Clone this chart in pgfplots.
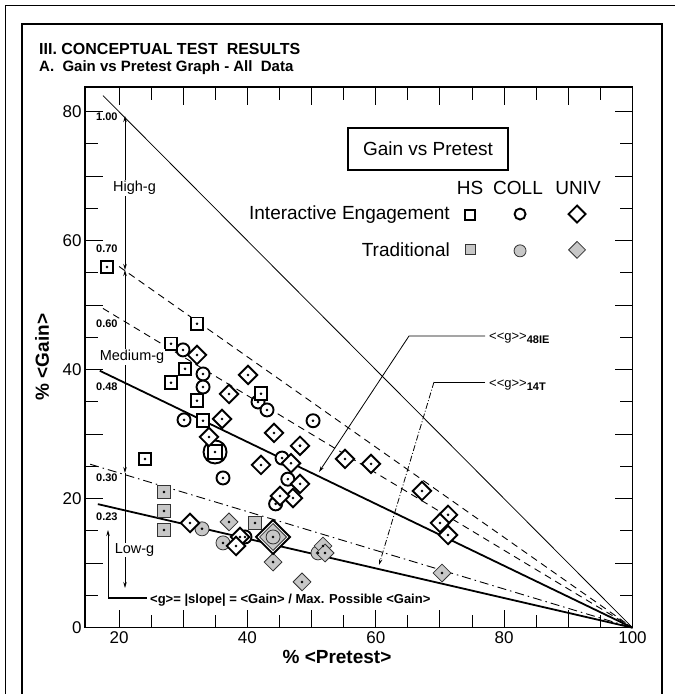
\documentclass[border=0pt]{standalone}
\usepackage{fontspec}
\setmainfont{Liberation Sans}
\usepackage{pgfplots}
\usepackage{pgfplotstable}
\pgfplotsset{compat=1.18}
\usetikzlibrary{arrows.meta}

% HS interactive engagement (squares)
\pgfplotstableread{
x y
18.13 55.93
32.15 47.11
28.10 44.01
30.28 40.13
28.10 37.98
32.15 35.19
33.09 32.09
42.12 36.28
24.05 26.16
}\hsIE
% HS traditional
\pgfplotstableread{
x y
27.01 21.05
27.01 18.10
27.01 15.16
41.19 16.24
}\hsTR
% COLL interactive engagement (circles)
\pgfplotstableread{
x y
29.97 43.07
33.09 39.34
33.09 37.32
30.13 32.22
36.20 23.22
41.66 35.00
43.06 33.76
50.23 32.09
45.40 26.30
48.20 28.20
46.30 23.03
44.40 19.20
39.63 14.07
}\colIE
% COLL traditional
\pgfplotstableread{
x y
32.93 15.33
36.20 13.15
51.00 11.60
}\colTR
% UNIV interactive engagement (diamonds)
\pgfplotstableread{
x y
32.15 42.29
40.10 39.19
37.14 36.24
36.05 32.37
34.02 29.58
44.15 30.20
42.12 25.24
48.20 22.30
47.10 20.10
45.08 20.42
55.21 26.17
59.26 25.40
67.20 21.20
71.26 17.50
70.01 16.24
71.26 14.38
31.06 16.24
38.85 14.07
38.23 12.67
46.80 25.50
48.20 28.20
}\unIE
% UNIV traditional
\pgfplotstableread{
x y
37.14 16.40
44.00 10.18
48.51 7.10
51.78 12.67
52.10 11.58
70.32 8.48
}\unTR

\tikzset{
  ie/.style={draw=black, line width=1.9bp, fill=white},
  tr/.style={draw=black!80, line width=0.8bp, fill=black!22},
}

\begin{document}
\begin{tikzpicture}
\begin{axis}[
  at={(85bp,-627.7bp)}, anchor=south west,
  scale only axis, width=547.5bp, height=540.7bp,
  xmin=14.7, xmax=100, ymin=0, ymax=83.83,
  axis line style={line width=1.3bp},
  tick style={line width=1bp, black},
  tick align=inside,
  xtick={20,30,...,100}, xticklabels={20,,40,,60,,80,,100},
  minor xtick={25,35,...,95},
  ytick={0,10,...,80}, yticklabels={0,,20,,40,,60,,80},
  minor ytick={5,15,...,75},
  major tick length=18bp, minor tick length=13bp,
  ticklabel style={font=\fontsize{17bp}{17bp}\selectfont},
  /pgf/number format/assume math mode=true,
  clip=false,
]
% g lines
\addplot[black, line width=0.8bp] coordinates {(17.5,82.5) (100,0)};
\addplot[black, line width=0.9bp, dash pattern=on 7bp off 5bp] coordinates {(20.0,56.0) (100,0)};
\addplot[black, line width=0.9bp, dash pattern=on 7bp off 5bp] coordinates {(17.5,49.5) (100,0)};
\addplot[black, line width=1.8bp] coordinates {(17.0,39.84) (100,0)};
\addplot[black, line width=0.9bp, dash pattern=on 9bp off 4bp on 1.5bp off 4bp] coordinates {(15.5,25.35) (100,0)};
\addplot[black, line width=1.8bp] coordinates {(16.7,19.16) (100,0)};

% large symbols
\addplot[only marks, mark=*, mark size=11.5bp, mark options={ie}] coordinates {(34.96,27.25)};
\addplot[only marks, mark=square*, mark size=6.8bp, mark options={ie}] coordinates {(34.96,27.25)};

% data
\addplot[only marks, mark=square*, mark size=6.3bp, mark options={tr}] table {\hsTR};
\addplot[only marks, mark=*, mark size=7bp, mark options={tr}] table {\colTR};
\addplot[only marks, mark=square*, mark size=6.3bp, mark options={tr, rotate=45}] table {\unTR};
\addplot[only marks, mark=*, mark size=6.5bp, mark options={ie}] table {\colIE};
\addplot[only marks, mark=square*, mark size=6.5bp, mark options={ie, rotate=45}] table {\unIE};
\addplot[only marks, mark=square*, mark size=6.3bp, mark options={ie}] table {\hsIE};

% big cluster
\addplot[only marks, mark=square*, mark size=12bp, mark options={ie, rotate=45}] coordinates {(44.0,14.07)};
\addplot[only marks, mark=square*, mark size=9.5bp, mark options={tr, rotate=45}] coordinates {(44.0,14.07)};
\addplot[only marks, mark=*, mark size=7bp, mark options={tr}] coordinates {(44.0,14.07)};

% center dots
\addplot[only marks, mark=*, mark size=1.1bp, black] table {\hsTR};
\addplot[only marks, mark=*, mark size=1.1bp, black] table {\colTR};
\addplot[only marks, mark=*, mark size=1.1bp, black] table {\unTR};
\addplot[only marks, mark=*, mark size=1.1bp, black] table {\colIE};
\addplot[only marks, mark=*, mark size=1.1bp, black] table {\unIE};
\addplot[only marks, mark=*, mark size=1.1bp, black] table {\hsIE};
\addplot[only marks, mark=*, mark size=1.1bp, black] coordinates {(34.96,27.25) (44.0,14.07)};

% legend glyphs
\addplot[only marks, mark=square*, mark size=5bp, mark options={ie}] coordinates {(74.69,63.97)};
\addplot[only marks, mark=*, mark size=5.5bp, mark options={ie}] coordinates {(82.48,64.13)};
\addplot[only marks, mark=square*, mark size=6bp, mark options={ie, rotate=45}] coordinates {(91.36,64.13)};
\addplot[only marks, mark=square*, mark size=5bp, mark options={tr}] coordinates {(74.69,58.58)};
\addplot[only marks, mark=*, mark size=6bp, mark options={tr}] coordinates {(82.48,58.43)};
\addplot[only marks, mark=square*, mark size=6bp, mark options={tr, rotate=45}] coordinates {(91.36,58.58)};
\end{axis}

\begin{scope}[x=1bp, y=-1bp]
% frames
\draw[line width=1bp] (5,694) -- (5,6) -- (675,6);
\draw[line width=1.5bp] (22,694) -- (22,24) -- (662,24) -- (662,694);
% titles
\node[anchor=west, inner sep=0, font=\bfseries\fontsize{16bp}{16bp}\selectfont] at (39,49) {III. CONCEPTUAL TEST\ \ RESULTS};
\node[anchor=west, inner sep=0, font=\bfseries\fontsize{15bp}{15bp}\selectfont] at (39,68) {A.\ \ Gain vs Pretest Graph - All\ \ Data};
% axis labels
\node[font=\bfseries\fontsize{19bp}{19bp}\selectfont] at (337,657) {\% <Pretest>};
\node[rotate=90, font=\bfseries\fontsize{19bp}{19bp}\selectfont] at (42,357) {\% <Gain>};
% g labels
\foreach \lab/\yy in {1.00/117, 0.70/249, 0.60/324, 0.48/387, 0.30/478, 0.23/517}{
  \node[anchor=west, inner sep=0, font=\bfseries\fontsize{11bp}{11bp}\selectfont] at (96,\yy) {\lab};
}
% range arrows
\draw[line width=0.8bp, {Stealth[length=6bp,width=3.5bp]}-{Stealth[length=6bp,width=3.5bp]}] (125,116) -- (125,270);
\draw[line width=0.8bp, {Stealth[length=6bp,width=3.5bp]}-{Stealth[length=6bp,width=3.5bp]}] (125,270) -- (125,473);
\draw[line width=0.8bp, -{Stealth[length=6bp,width=3.5bp]}] (125,473) -- (125,588);
\draw[line width=0.9bp, -{Stealth[length=6bp,width=3.5bp]}] (108,598) -- (108,530);
\draw[line width=1.8bp] (108,598) -- (147,598);
\node[fill=white, inner sep=1bp, font=\fontsize{14.5bp}{14.5bp}\selectfont] at (134.5,188) {High-g};
\node[fill=white, inner sep=1bp, font=\fontsize{14.5bp}{14.5bp}\selectfont] at (132,357) {Medium-g};
\node[fill=white, inner sep=1bp, font=\fontsize{14.5bp}{14.5bp}\selectfont] at (134.5,550) {Low-g};
\node[anchor=west, inner sep=0, font=\bfseries\fontsize{13bp}{13bp}\selectfont] at (150,600) {<g>= |slope| = <Gain> / Max. Possible <Gain>};
% callouts
\draw[line width=0.8bp, -{Stealth[length=6bp,width=3.5bp]}] (485,336) -- (409,336) -- (319,472);
\node[anchor=west, inner sep=0, font=\fontsize{13bp}{13bp}\selectfont] at (489,338) {<\kern0pt<g>\kern0pt>\raisebox{-3bp}{\bfseries\fontsize{11bp}{11bp}\selectfont 48IE}};
\draw[line width=0.8bp] (485,382) -- (434,382);
\draw[line width=0.8bp, dash pattern=on 6bp off 2bp on 1bp off 2bp, -{Stealth[length=6bp,width=3.5bp]}] (434,382) -- (379,565);
\node[anchor=west, inner sep=0, font=\fontsize{13bp}{13bp}\selectfont] at (489,385) {<\kern0pt<g>\kern0pt>\raisebox{-3bp}{\bfseries\fontsize{11bp}{11bp}\selectfont 14T}};
% legend
\draw[line width=1.5bp] (348,128) rectangle (508,170);
\node[font=\fontsize{19bp}{19bp}\selectfont] at (428,149) {Gain vs Pretest};
\node[font=\fontsize{19bp}{19bp}\selectfont] at (470,188) {HS};
\node[font=\fontsize{19bp}{19bp}\selectfont] at (518,188) {COLL};
\node[font=\fontsize{19bp}{19bp}\selectfont] at (578,188) {UNIV};
\node[anchor=east, inner sep=0, font=\fontsize{19bp}{19bp}\selectfont] at (450,215) {Interactive Engagement};
\node[anchor=east, inner sep=0, font=\fontsize{19bp}{19bp}\selectfont] at (450,250) {Traditional};
\pgfresetboundingbox
\path (0,0) rectangle (675,694);
\end{scope}
\end{tikzpicture}
\end{document}
